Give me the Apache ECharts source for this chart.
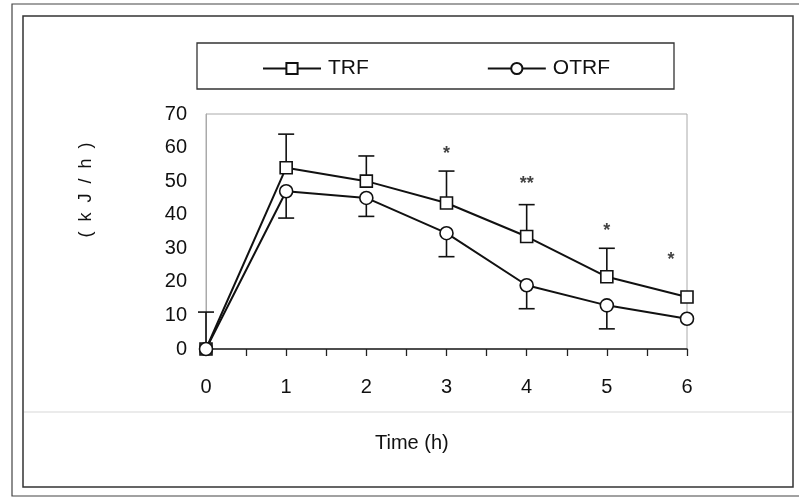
<!DOCTYPE html>
<html>
<head>
<meta charset="utf-8">
<script src="https://cdn.jsdelivr.net/npm/echarts@6/dist/echarts.min.js"></script>
<style>html,body{margin:0;padding:0;background:#fff}#c{width:799px;height:499px}</style>
</head>
<body>
<div id="c"></div>
<script>
const hours = [0, 1, 2, 3, 4, 5, 6];
const trf = [0, 54, 50, 43.5, 33.5, 21.5, 15.5];
const trfUpper = [11, 64, 57.5, 53, 43, 30, null];
const otrf = [0, 47, 45, 34.5, 19, 13, 9];
const otrfLower = [null, 39, 39.5, 27.5, 12, 6, null];
const starX = [3, 4, 5, 5.8];
const starY = [58, 49, 35, 26.5];
const starText = ['*', '**', '*', '*'];
const yTicks = [0, 10, 20, 30, 40, 50, 60, 70];

const FONT = '"Liberation Sans", Arial, sans-serif';
const chart = echarts.init(document.getElementById('c'), null, {renderer: 'canvas'});

function errData(vals, ends) {
  const out = [];
  hours.forEach((h, i) => { if (ends[i] != null) out.push([h, vals[i], ends[i]]); });
  return out;
}
function renderErr(params, api) {
  const p = api.coord([api.value(0), api.value(1)]);
  const e = api.coord([api.value(0), api.value(2)]);
  const hw = 8;
  const st = {stroke: '#111', lineWidth: 1.6};
  return {type: 'group', children: [
    {type: 'line', shape: {x1: p[0], y1: p[1], x2: e[0], y2: e[1]}, style: st},
    {type: 'line', shape: {x1: e[0] - hw, y1: e[1], x2: e[0] + hw, y2: e[1]}, style: st}
  ]};
}

chart.setOption({
  animation: false,
  backgroundColor: '#fff',
  graphic: [
    {type: 'rect', shape: {x: 12, y: 4, width: 800, height: 492}, style: {fill: 'none', stroke: '#444', lineWidth: 1.2}},
    {type: 'rect', shape: {x: 23, y: 16, width: 770, height: 471}, style: {fill: 'none', stroke: '#333', lineWidth: 1.5}},
    {type: 'line', shape: {x1: 24, y1: 412, x2: 792, y2: 412}, style: {stroke: '#e4e4e4', lineWidth: 1.5}},
    {type: 'rect', shape: {x: 197, y: 43, width: 477, height: 46}, style: {fill: 'none', stroke: '#333', lineWidth: 1.3}},
    {type: 'text', left: 375, top: 433, style: {text: 'Time (h)', font: '20px ' + FONT, fill: '#111'}},
    {type: 'text', x: 86, y: 190, rotation: Math.PI / 2, style: {text: '(  k  J  /  h  )', font: '18px ' + FONT, fill: '#111', textAlign: 'center', textVerticalAlign: 'middle'}}
  ],
  legend: {
    top: 53, left: 257,
    itemWidth: 58, itemHeight: 14, itemGap: 118,
    textStyle: {fontFamily: FONT, fontSize: 21, color: '#111', padding: [0, 0, 0, 2]},
    data: ['TRF', 'OTRF']
  },
  grid: {left: 206, right: 112, top: 114, bottom: 150, show: true, borderColor: '#aaa', borderWidth: 1},
  xAxis: {
    type: 'value', min: 0, max: 6, interval: 1,
    axisLine: {lineStyle: {color: '#222', width: 1.5}},
    axisTick: {show: true, length: 7, lineStyle: {color: '#222', width: 1.3}},
    minorTick: {show: true, splitNumber: 2, length: 7, lineStyle: {color: '#222', width: 1.3}},
    splitLine: {show: false},
    axisLabel: {fontFamily: FONT, fontSize: 20, color: '#111', margin: 28}
  },
  yAxis: {
    type: 'value', min: 0, max: 70, interval: 10,
    axisLine: {show: true, lineStyle: {color: '#aaa', width: 1}},
    axisTick: {show: false},
    splitLine: {show: false},
    axisLabel: {fontFamily: FONT, fontSize: 20, color: '#111', margin: 19,
      formatter: v => yTicks.includes(v) ? String(v) : ''}
  },
  series: [
    {type: 'custom', name: 'trfErr', renderItem: renderErr, data: errData(trf, trfUpper), z: 1, silent: true},
    {type: 'custom', name: 'otrfErr', renderItem: renderErr, data: errData(otrf, otrfLower), z: 1, silent: true},
    {type: 'line', name: 'TRF', data: hours.map((h, i) => [h, trf[i]]), symbol: 'rect', symbolSize: 12,
      lineStyle: {color: '#111', width: 2}, itemStyle: {color: '#fff', borderColor: '#111', borderWidth: 1.6}, z: 3},
    {type: 'line', name: 'OTRF', data: hours.map((h, i) => [h, otrf[i]]), symbol: 'circle', symbolSize: 13,
      lineStyle: {color: '#111', width: 2}, itemStyle: {color: '#fff', borderColor: '#111', borderWidth: 1.6}, z: 3},
    {type: 'scatter', name: 'stars', symbolSize: 0, silent: true,
      data: starX.map((x, i) => ({value: [x, starY[i]], label: {formatter: starText[i]}})),
      label: {show: true, position: 'inside', fontFamily: FONT, fontSize: 18, fontWeight: 'bold', color: '#111'}}
  ]
});
</script>
</body>
</html>
